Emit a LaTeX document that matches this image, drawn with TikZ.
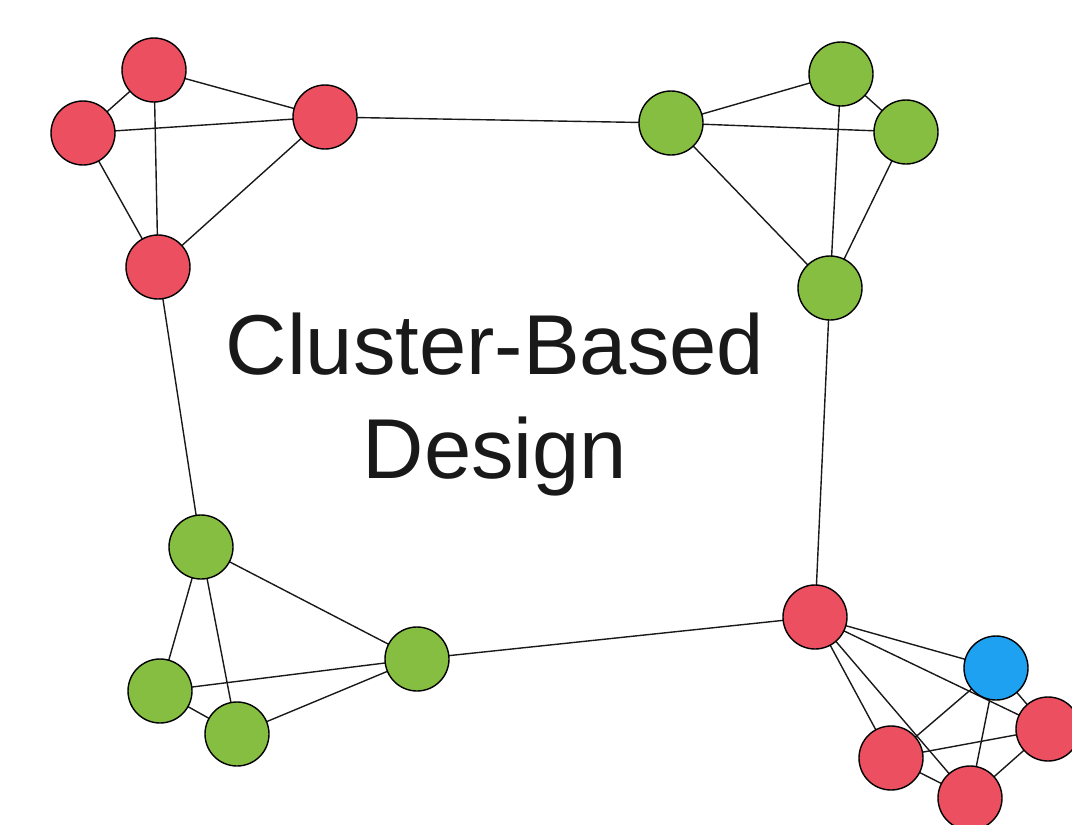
\documentclass[tikz,border=0pt]{standalone}
\usepackage{fontspec}
\setmainfont{Liberation Sans}
\definecolor{nodered}{RGB}{236,80,96}
\definecolor{nodegreen}{RGB}{134,190,65}
\definecolor{nodeblue}{RGB}{29,161,240}
\pgfdeclarelayer{bg}
\pgfsetlayers{bg,main}
\begin{document}
\begin{tikzpicture}[x=1pt,y=-1pt,
  vertex/.style={circle,draw=black,line width=1.4pt,minimum size=64pt,inner sep=0pt},
  redv/.style={vertex,fill=nodered},
  greenv/.style={vertex,fill=nodegreen},
  bluev/.style={vertex,fill=nodeblue},
  link/.style={draw=black!90,line width=1.4pt}]
\useasboundingbox (0,0) rectangle (1072,825);
% top-left cluster
\node[redv] (a1) at (154,70) {};
\node[redv] (a2) at (83,133) {};
\node[redv] (a3) at (325,117) {};
\node[redv] (a4) at (158,267) {};
% top-right cluster
\node[greenv] (b1) at (671,123) {};
\node[greenv] (b2) at (841,74) {};
\node[greenv] (b3) at (906,132) {};
\node[greenv] (b4) at (830,288) {};
% bottom-left cluster
\node[greenv] (c1) at (201,547) {};
\node[greenv] (c2) at (160,691) {};
\node[greenv] (c3) at (237,734) {};
\node[greenv] (c4) at (417,659) {};
% bottom-right cluster
\node[redv] (d1) at (815,617) {};
\node[bluev] (e) at (996,668) {};
\node[redv] (d2) at (891,758) {};
\node[redv] (d3) at (970,798) {};
\node[redv] (d4) at (1048,729) {};
% edges drawn behind the vertices
\begin{pgfonlayer}{bg}
\foreach \u/\v in {a1/a2,a1/a3,a2/a3,a1/a4,a2/a4,a3/a4,
                   b1/b2,b1/b3,b2/b3,b1/b4,b2/b4,b3/b4,
                   c1/c2,c1/c3,c1/c4,c2/c3,c2/c4,c3/c4,
                   d1/e,d1/d2,d1/d3,d1/d4,e/d2,e/d3,e/d4,d2/d3,d2/d4,d3/d4,
                   a3/b1,a4/c1,b4/d1,c4/d1}
  \path[link] (\u.center) -- (\v.center);
\end{pgfonlayer}
\node[align=center,font=\fontsize{85}{104}\selectfont,text=black!90] (title) at (495,405) {Cluster-Based\\Design};
\end{tikzpicture}
\end{document}
